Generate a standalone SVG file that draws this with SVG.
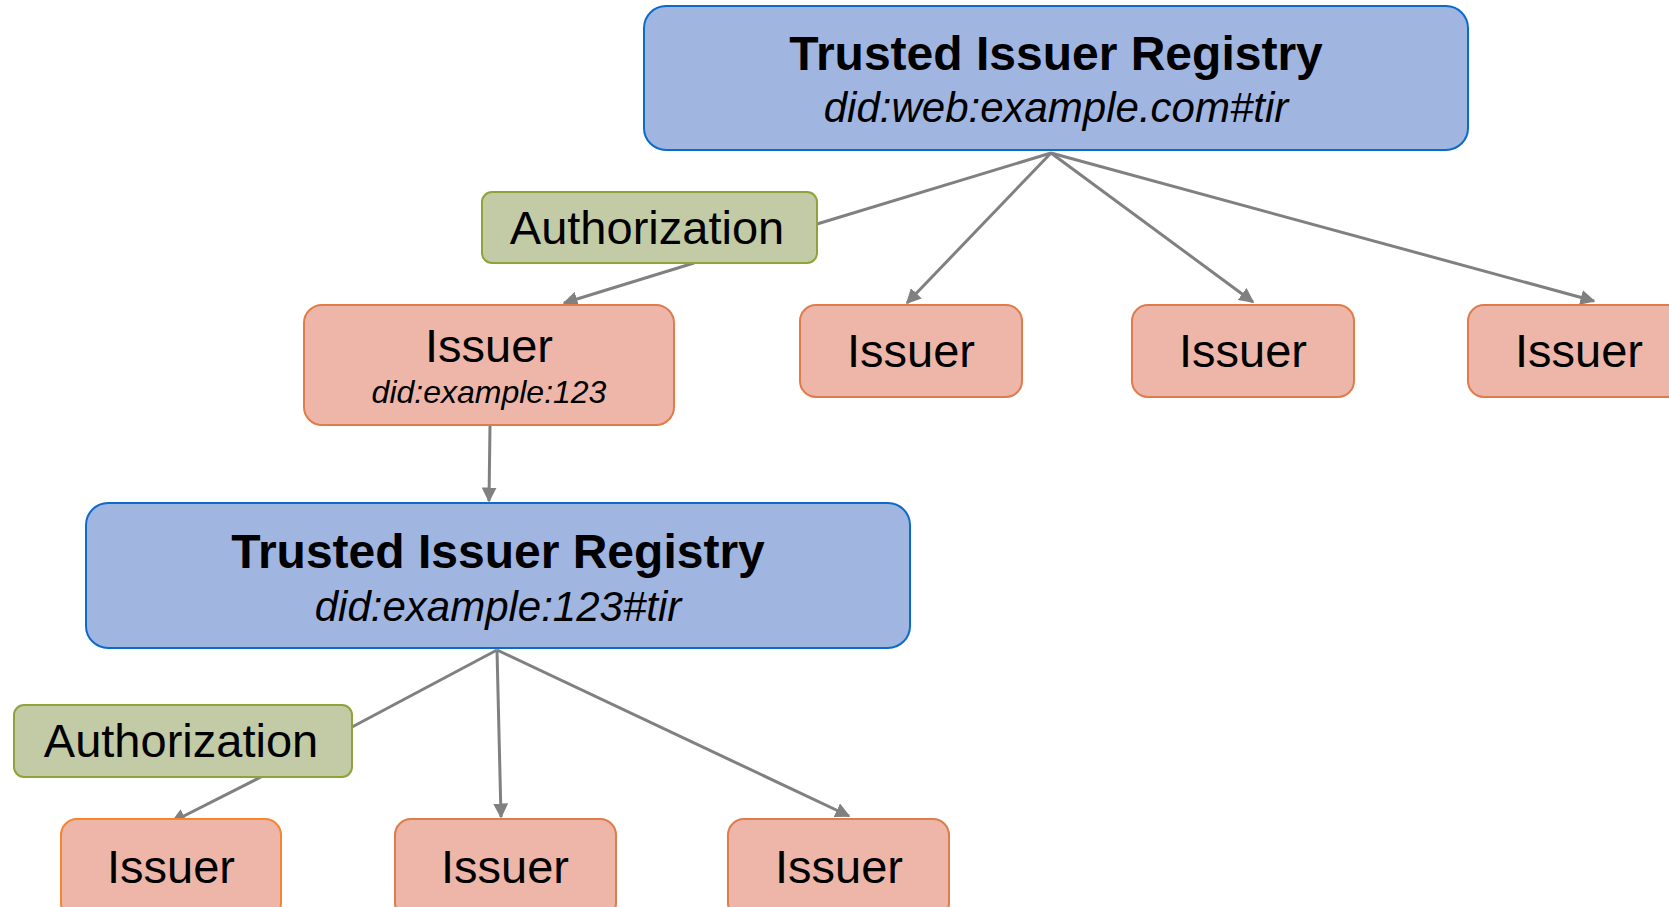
<svg xmlns="http://www.w3.org/2000/svg" width="1669" height="907" viewBox="0 0 1669 907">
<defs>
<style>
.tir{fill:#A1B5E1;stroke:#0A6BC9;stroke-width:2}
.auth{fill:#C2CBA5;stroke:#8FA33A;stroke-width:2}
.iss{fill:#EDB6A9;stroke:#E07B4A;stroke-width:2}
.t{font-family:"Liberation Sans",Arial,sans-serif;fill:#000;text-anchor:middle}
.title{font-size:48px;font-weight:bold}
.sub{font-size:42px;font-style:italic}
.lbl{font-size:47px}
.small{font-size:32px;font-style:italic}
.c{stroke:#808080;stroke-width:3;fill:none;marker-end:url(#ah)}
.cn{stroke:#808080;stroke-width:3;fill:none}
</style>
<marker id="ah" viewBox="0 0 10 10" refX="9" refY="5" markerWidth="5" markerHeight="5" orient="auto" markerUnits="strokeWidth">
<path d="M0,0 L10,5 L0,10 z" fill="#808080"/>
</marker>
</defs>
<rect width="1669" height="907" fill="#fff"/>
<g id="connectors">
<line class="cn" x1="1051" y1="153" x2="817" y2="224"/>
<line class="c" x1="1051" y1="153" x2="907" y2="303"/>
<line class="c" x1="1051" y1="153" x2="1253" y2="302"/>
<line class="c" x1="1051" y1="153" x2="1594" y2="301"/>
<line class="c" x1="694" y1="263" x2="564" y2="303"/>
<line class="c" x1="490" y1="425" x2="489" y2="501"/>
<line class="cn" x1="497" y1="650" x2="352" y2="727"/>
<line class="c" x1="497" y1="650" x2="501" y2="817"/>
<line class="c" x1="497" y1="650" x2="849" y2="816"/>
<line class="c" x1="261" y1="777" x2="172" y2="822"/>
</g>
<g id="tir1">
<rect class="tir" x="644" y="6" width="824" height="144" rx="22"/>
<text class="t title" x="1056" y="70">Trusted Issuer Registry</text>
<text class="t sub" x="1056" y="122">did:web:example.com#tir</text>
</g>
<g id="auth1">
<rect class="auth" x="482" y="192" width="335" height="71" rx="10"/>
<text class="t lbl" x="647" y="244">Authorization</text>
</g>
<g id="issuer1">
<rect class="iss" x="304" y="305" width="370" height="120" rx="18"/>
<text class="t lbl" x="489" y="362">Issuer</text>
<text class="t small" x="489" y="403">did:example:123</text>
</g>
<g id="issuer2">
<rect class="iss" x="800" y="305" width="222" height="92" rx="16"/>
<text class="t lbl" x="911" y="367">Issuer</text>
</g>
<g id="issuer3">
<rect class="iss" x="1132" y="305" width="222" height="92" rx="16"/>
<text class="t lbl" x="1243" y="367">Issuer</text>
</g>
<g id="issuer4">
<rect class="iss" x="1468" y="305" width="222" height="92" rx="16"/>
<text class="t lbl" x="1579" y="367">Issuer</text>
</g>
<g id="tir2">
<rect class="tir" x="86" y="503" width="824" height="145" rx="22"/>
<text class="t title" x="498" y="568">Trusted Issuer Registry</text>
<text class="t sub" x="498" y="621">did:example:123#tir</text>
</g>
<g id="auth2">
<rect class="auth" x="14" y="705" width="338" height="72" rx="10"/>
<text class="t lbl" x="181" y="757">Authorization</text>
</g>
<g id="issuer5">
<rect class="iss" x="61" y="819" width="220" height="100" rx="16" style="stroke:#F5852F"/>
<text class="t lbl" x="171" y="883">Issuer</text>
</g>
<g id="issuer6">
<rect class="iss" x="395" y="819" width="221" height="100" rx="16"/>
<text class="t lbl" x="505" y="883">Issuer</text>
</g>
<g id="issuer7">
<rect class="iss" x="728" y="819" width="221" height="100" rx="16"/>
<text class="t lbl" x="839" y="883">Issuer</text>
</g>
</svg>
